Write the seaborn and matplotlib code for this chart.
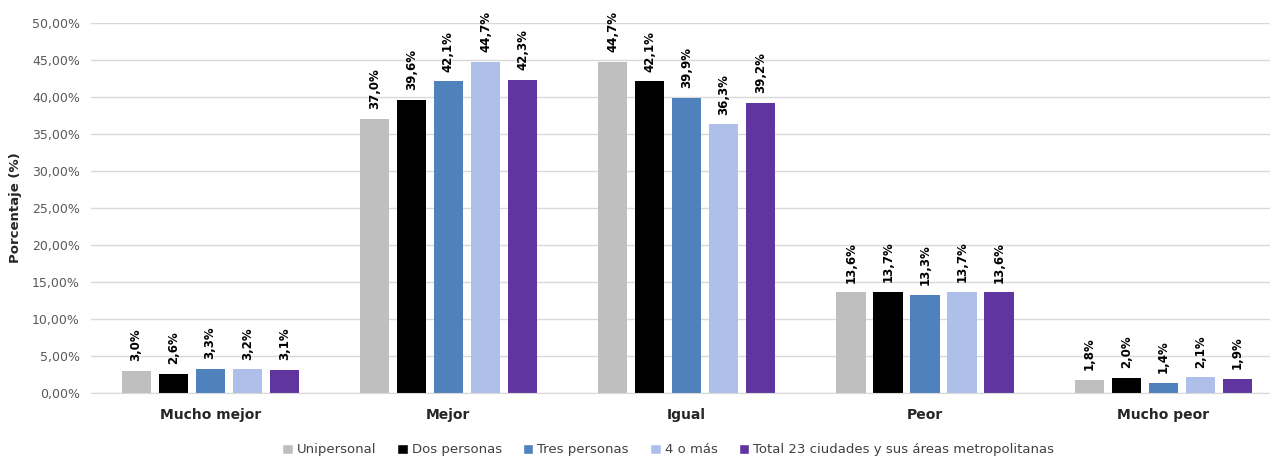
import pandas as pd
import matplotlib.pyplot as plt
import seaborn as sns
from matplotlib.ticker import FuncFormatter
from matplotlib.patches import Patch

# categories and series
categorias = ['Mucho mejor', 'Mejor', 'Igual', 'Peor', 'Mucho peor']
grupos = ['Unipersonal', 'Dos personas', 'Tres personas', '4 o más',
          'Total 23 ciudades y sus áreas metropolitanas']
unipersonal = [3.0, 37.0, 44.7, 13.6, 1.8]
dos_personas = [2.6, 39.6, 42.1, 13.7, 2.0]
tres_personas = [3.3, 42.1, 39.9, 13.3, 1.4]
cuatro_o_mas = [3.2, 44.7, 36.3, 13.7, 2.1]
total_23 = [3.1, 42.3, 39.2, 13.6, 1.9]
colores = ['#BFBFBF', '#000000', '#4F81BD', '#AEC0EA', '#6135A0']

series = [unipersonal, dos_personas, tres_personas, cuatro_o_mas, total_23]
rows = []
for g, vals in zip(grupos, series):
    for c, v in zip(categorias, vals):
        rows.append({'categoria': c, 'grupo': g, 'valor': v})
df = pd.DataFrame(rows)

sns.set_style('white')
plt.rcParams['font.family'] = ['DejaVu Sans']

fig = plt.figure(figsize=(12.7, 4.58), dpi=100)
ax = fig.add_axes([0.0717, 0.142, 0.938, 0.808])

sns.barplot(data=df, x='categoria', y='valor', hue='grupo', order=categorias,
            hue_order=grupos, palette=colores, saturation=1, width=0.777,
            gap=0.21, linewidth=0, ax=ax, legend=False)

for cont in ax.containers:
    labels = [f'{v:.1f}%'.replace('.', ',') for v in cont.datavalues]
    ax.bar_label(cont, labels=labels, rotation=90, padding=7,
                 fontsize=8.5, fontweight='bold', color='#000000')

ax.set_ylim(0, 50)
ax.set_xlim(-0.5, 4.5)
ax.set_yticks(range(0, 51, 5))
ax.yaxis.set_major_formatter(FuncFormatter(lambda v, p: f'{v:.2f}%'.replace('.', ',')))
ax.grid(axis='y', color='#D9D9D9', linewidth=1)
ax.set_axisbelow(True)
for s in ['top', 'right', 'left']:
    ax.spines[s].set_visible(False)
ax.spines['bottom'].set_color('#D9D9D9')
ax.tick_params(axis='y', length=0, labelsize=9, labelcolor='#595959', pad=8)
ax.tick_params(axis='x', length=0, labelsize=10, pad=11)
for t in ax.get_xticklabels():
    t.set_fontweight('bold')
ax.set_xlabel('')
ax.set_ylabel('Porcentaje (%)', fontsize=9.5, fontweight='bold', labelpad=10)
ax.yaxis.set_label_coords(-0.058, 0.5)

handles = [Patch(facecolor=c, label=g) for c, g in zip(colores, grupos)]
fig.legend(handles=handles, loc='center', bbox_to_anchor=(0.526, 0.018),
           ncol=5, frameon=False, fontsize=9.5, handlelength=0.8,
           handleheight=0.8, handletextpad=0.3, columnspacing=1.6,
           labelcolor='#404040')

fig.savefig('out.png', dpi=100)
